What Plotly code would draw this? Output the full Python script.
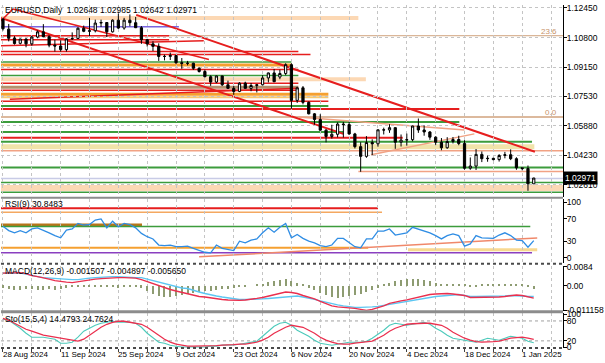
import pandas as pd
import plotly.graph_objects as go

# ---------------- data ----------------
dates = pd.bdate_range("2024-08-28", "2025-01-03")
bars = list(range(len(dates)))

opens = [1.1183,1.1127,1.1077,1.1048,1.1072,1.1045,1.1083,1.1112,1.1085,1.1038,
         1.1033,1.1013,1.1073,1.1075,1.1132,1.1115,1.1118,1.1161,1.1164,1.1112,
         1.1177,1.1133,1.1177,1.1163,1.1135,1.1068,1.1045,1.1031,1.0975,1.0975,
         1.0980,1.0940,1.0936,1.0937,1.0909,1.0891,1.0862,1.0832,1.0866,1.0817,
         1.0797,1.0780,1.0826,1.0797,1.0813,1.0817,1.0855,1.0883,1.0860,1.0880,
         1.0929,1.0730,1.0800,1.0719,1.0655,1.0623,1.0564,1.0529,1.0541,1.0598,
         1.0595,1.0543,1.0472,1.0418,1.0495,1.0488,1.0566,1.0565,1.0578,1.0497,
         1.0509,1.0511,1.0587,1.0565,1.0554,1.0525,1.0497,1.0466,1.0501,1.0512,
         1.0490,1.0352,1.0364,1.0429,1.0405,1.0407,1.0400,1.0423,1.0427,1.0405,
         1.0354,1.0350,1.02648]
highs = [1.1190,1.1156,1.1088,1.1074,1.1076,1.1089,1.1120,1.1155,1.1093,1.1068,
         1.1065,1.1077,1.1109,1.1138,1.1147,1.1189,1.1180,1.1180,1.1166,1.1182,
         1.1214,1.1190,1.1209,1.1195,1.1144,1.1073,1.1060,1.1048,1.0985,1.0996,
         1.0982,1.0966,1.0950,1.0940,1.0914,1.0901,1.0870,1.0868,1.0868,1.0840,
         1.0810,1.0831,1.0834,1.0827,1.0820,1.0870,1.0885,1.0905,1.0901,1.0937,
         1.0937,1.0806,1.0810,1.0724,1.0659,1.0653,1.0570,1.0594,1.0608,1.0610,
         1.0610,1.0549,1.0497,1.0531,1.0513,1.0568,1.0578,1.0597,1.0579,1.0540,
         1.0545,1.0589,1.0629,1.0591,1.0559,1.0530,1.0520,1.0525,1.0526,1.0533,
         1.0508,1.0412,1.0459,1.0445,1.0422,1.0410,1.0430,1.0443,1.0457,1.0413,
         1.0355,1.0367,1.02985]
lows = [1.1119,1.1059,1.1041,1.1042,1.1026,1.1035,1.1076,1.1083,1.1026,1.1002,
        1.1002,1.1002,1.1066,1.1073,1.1110,1.1088,1.1109,1.1139,1.1083,1.1108,
        1.1128,1.1124,1.1143,1.1133,1.1045,1.1030,1.1005,1.0950,1.0953,1.0955,
        1.0933,1.0906,1.0925,1.0900,1.0885,1.0859,1.0811,1.0826,1.0810,1.0796,
        1.0761,1.0776,1.0796,1.0781,1.0774,1.0814,1.0830,1.0832,1.0848,1.0870,
        1.0683,1.0716,1.0708,1.0652,1.0595,1.0560,1.0496,1.0517,1.0524,1.0523,
        1.0538,1.0462,1.0332,1.0410,1.0424,1.0472,1.0540,1.0549,1.0460,1.0473,
        1.0478,1.0502,1.0549,1.0533,1.0510,1.0482,1.0452,1.0460,1.0490,1.0480,
        1.0344,1.0343,1.0342,1.0386,1.0388,1.0395,1.0389,1.0407,1.0397,1.0343,
        1.0340,1.0226,1.02642]
closes = [1.1129,1.1076,1.1047,1.1072,1.1045,1.1083,1.1112,1.1085,1.1038,1.1033,
          1.1013,1.1073,1.1075,1.1132,1.1115,1.1118,1.1161,1.1164,1.1112,1.1177,
          1.1133,1.1177,1.1163,1.1135,1.1068,1.1045,1.1031,1.0975,1.0975,1.0980,
          1.0940,1.0936,1.0937,1.0909,1.0891,1.0862,1.0832,1.0866,1.0817,1.0797,
          1.0780,1.0826,1.0797,1.0813,1.0817,1.0855,1.0883,1.0834,1.0880,1.0929,
          1.0730,1.0800,1.0719,1.0655,1.0623,1.0564,1.0529,1.0541,1.0598,1.0595,
          1.0543,1.0472,1.0418,1.0495,1.0488,1.0566,1.0565,1.0578,1.0497,1.0509,
          1.0511,1.0587,1.0565,1.0554,1.0525,1.0497,1.0466,1.0501,1.0512,1.0490,
          1.0352,1.0364,1.0429,1.0405,1.0407,1.0400,1.0423,1.0427,1.0405,1.0354,
          1.0350,1.0265,1.02971]

rsi = [57,49,45,49,45,52,54,50,45,40,
       36,50,52,62,59,60,68,70,54,66,
       56,62,60,54,44,38,34,23,22,23,
       20,20,21,17,14,10,9,23,17,15,
       13,30,27,32,34,45,54,46,55,62,
       36,42,35,30,27,22,20,23,35,35,
       27,20,18,34,34,48,48,52,41,43,
       45,55,52,49,45,40,34,40,43,40,
       21,25,40,36,36,35,41,45,40,32,
       31,19,30.8483]

# MACD values in units of 1e-4
macd_red_e4 = [55.5,55.5,57.7,57.7,53.3,44.4,40.0,35.5,28.9,22.2,
               17.8,15.5,13.3,17.8,22.2,26.6,28.9,31.1,33.3,35.5,
               35.5,35.5,35.5,33.3,26.6,17.8,8.9,0.0,-11.1,-17.8,
               -24.4,-31.1,-37.7,-44.4,-48.8,-51.1,-55.5,-57.7,-62.2,-64.4,
               -66.6,-66.6,-64.4,-62.2,-57.7,-53.3,-46.6,-40.0,-35.5,-28.9,
               -31.1,-35.5,-44.4,-51.1,-59.9,-71.0,-79.9,-91.0,-95.5,-97.7,
               -97.7,-102.1,-106.6,-111.0,-106.6,-99.9,-91.0,-79.9,-73.3,-68.8,
               -64.4,-57.7,-53.3,-46.6,-40.0,-37.7,-35.5,-35.5,-37.7,-40.0,
               -44.4,-53.3,-53.3,-53.3,-53.3,-51.1,-51.1,-48.8,-44.4,-42.2,
               -44.4,-51.1,-56.5]
macd_blue_e4 = [55.5,55.5,57.7,55.5,51.1,44.4,40.0,35.5,33.3,31.1,
                28.9,28.9,26.6,26.6,31.1,33.3,35.5,37.7,40.0,40.0,
                40.0,37.7,37.7,35.5,35.5,28.9,22.2,15.5,8.9,2.2,
                -4.4,-11.1,-13.3,-22.2,-28.9,-35.5,-42.2,-46.6,-51.1,-55.5,
                -59.9,-62.2,-62.2,-62.2,-62.2,-59.9,-57.7,-55.5,-53.3,-51.1,
                -46.6,-46.6,-51.1,-55.5,-62.2,-68.8,-75.5,-79.9,-86.6,-91.0,
                -95.5,-97.7,-97.7,-97.7,-95.5,-93.2,-88.8,-84.4,-79.9,-75.5,
                -71.0,-64.4,-59.9,-55.5,-53.3,-48.8,-46.6,-44.4,-42.2,-40.0,
                -44.4,-48.8,-48.8,-48.8,-48.8,-48.8,-46.6,-46.6,-44.4,-44.4,
                -46.6,-48.8,-48.97]
macd_hist_e4 = [-8.9,-13.3,-17.8,-17.8,-13.3,-13.3,-17.8,-17.8,-13.3,-17.8,
                -13.3,-8.9,-4.4,-4.4,-4.4,-4.4,-4.4,-4.4,-4.4,-4.4,
                -8.9,-4.4,-4.4,-4.4,-8.9,-22.2,-35.5,-44.4,-48.8,-48.8,
                -44.4,-40.0,-35.5,-31.1,-26.6,-22.2,-22.2,-17.8,-13.3,-13.3,
                -8.9,-4.4,-4.4,0.0,4.4,8.9,17.8,22.2,26.6,31.1,
                22.2,13.3,4.4,-8.9,-17.8,-31.1,-40.0,-48.8,-53.3,-48.8,
                -44.4,-40.0,-35.5,-26.6,-17.8,-8.9,4.4,13.3,22.2,26.6,
                31.1,31.1,31.1,26.6,22.2,13.3,8.9,8.9,8.9,4.4,
                4.4,-4.4,-4.4,4.4,4.4,4.4,4.4,4.4,4.4,4.4,
                4.4,-4.4,-15.07]

sto_main = [85,82,70,58,43,31,31,31,28,25,
            13,13,16,31,49,58,67,73,76,79,
            76,76,76,73,61,43,28,16,13,7,
            4,1.5,1.5,1.5,1.5,1.5,4,4,7,7,
            8,10,13,16,19,34,49,64,73,76,
            67,52,43,34,22,13,10,7,10,13,
            16,16,16,19,28,40,52,67,73,70,
            67,70,73,76,70,58,49,37,28,25,
            22,19,16,22,28,25,22,28,34,31,
            28,19,14.4793]
sto_signal = [88,82,73,64,55,49,43,37,34,31,
              28,25,22,19,25,37,49,61,70,76,
              79,79,76,74,70,61,49,37,25,16,
              10,7,4,4,4,4,4,5.5,7,7,
              8.5,10,10,13,16,22,31,43,52,61,
              67,64,61,52,43,31,22,16,11.5,10,
              10,13,14.5,16,19,28,37,49,58,64,
              70,71.5,73,73,73,70,67,58,46,37,
              28,22,17.5,16,16,17.5,19,23.5,28,29.5,
              31,28,24.7624]

for arr in (opens, highs, lows, closes, rsi, macd_red_e4, macd_blue_e4,
            macd_hist_e4, sto_main, sto_signal):
    assert len(arr) == len(bars), len(arr)

macd_red = [v / 1e4 for v in macd_red_e4]
macd_blue = [v / 1e4 for v in macd_blue_e4]
macd_hist = [v / 1e4 for v in macd_hist_e4]

price_ticks = [1.12450, 1.10800, 1.09150, 1.07530, 1.05880, 1.04230, 1.02610]
rsi_ticks = [100, 70, 30, 0]
macd_ticks = [0.0084, 0.0, -0.011158]
macd_tick_text = ["0.0084", "0.00", "-0.011158"]
sto_ticks = [100, 80, 20, 0]
sto_levels = [80, 20]
date_tick_bars = [0, 10, 20, 30, 40, 50, 60, 70, 80, 90]
date_tick_labels = ["28 Aug 2024", "11 Sep 2024", "25 Sep 2024", "9 Oct 2024",
                    "23 Oct 2024", "6 Nov 2024", "20 Nov 2024", "4 Dec 2024",
                    "18 Dec 2024", "1 Jan 2025"]

# horizontal price levels drawn on the chart (price, first bar, last bar)
L, R = -0.34, 97.07
level_price = [1.11898, 1.08472, 1.04715, 1.02422,
               1.11400, 1.10903, 1.10903, 1.10682, 1.10019, 1.09853, 1.09439,
               1.09273, 1.09025, 1.08693, 1.08251, 1.08030, 1.07864, 1.07643,
               1.07478, 1.07257, 1.06980, 1.06815, 1.06373, 1.06096, 1.05544,
               1.05212, 1.04991, 1.04494, 1.03555, 1.03334, 1.02947, 1.02726,
               1.02174]
level_from = [L, L, L, L,
              L, L, L, L, L, L, L,
              L, L, L, L, L, L, L,
              L, L, L, L, L, L, L,
              L, L, L, L, 61.6, L, L,
              L]
level_to = [61.6, 62.9, 92.1, R,
            30.5, R, 28.8, 28.8, 51.2, 53.3, 50.0,
            50.0, 51.2, 51.2, 51.2, 51.2, 51.2, 56.4,
            56.4, 56.4, 56.4, 79.1, R, 79.1, 59.0,
            69.3, 91.7, R, R, R, R, R,
            R]
# trend lines (bar0, price0, bar1, price1)
trend_lines = [(23.1, 1.12063, 92.2, 1.04439),
               (L, 1.11898, 59.0, 1.05433),
               (L, 1.10351, 34.8, 1.10627),
               (1.7, 1.12395, 35.7, 1.09577),
               (1.2, 1.07367, 51.2, 1.07975),
               (L, 1.11732, 1.7, 1.12395),
               (51.2, 1.06373, 80.0, 1.05655),
               (63.8, 1.04273, 81.7, 1.05433)]
fib_labels = [("23.6", 1.10903), ("0.0", 1.06373)]
last_price = 1.02971

# RSI levels (value, first bar, last bar)
rsi_level_value = [89.3, 82.1, 58.9, 56.3, 17.9, 14.3, 8.9]
rsi_level_from = [L, L, L, L, L, 70.2, L]
rsi_level_to = [65.0, 65.7, 24.1, 91.4, 63.3, 92.6, 91.7]
rsi_trend = (34.0, 1.8, 92.6, 35.7)

# ---------------- styles ----------------
RED = "#e61e1e"
GREEN = "#3c9c3c"
ORANGE = "#f5a030"
PEACH = "#fcd8b4"
TAN = "#d0a27c"
PURPLE = "#7a66e0"
KHAKI = "#f1e3aa"
BROWN = "#b3906e"
SALMON = "#f1a284"
LAV = "#c8cbe6"
level_color = [PEACH, PEACH, KHAKI, PEACH,
               PURPLE, TAN, RED, RED, RED, RED, GREEN,
               ORANGE, RED, GREEN, RED, BROWN, RED, ORANGE,
               "#f6c870", RED, GREEN, RED, TAN, GREEN, GREEN,
               RED, GREEN, SALMON, GREEN, SALMON, LAV, GREEN,
               GREEN]
level_width = [4, 4, 5, 6,
               1.5, 1, 1.5, 1.5, 1.5, 1.5, 1.5,
               3, 1.5, 1.5, 1.5, 3, 1.5, 3,
               2, 1.5, 2, 2, 1.5, 2, 2,
               2, 2, 1.5, 2, 1.5, 1.5, 1.5,
               1.5]
trend_color = [RED, RED, RED, RED, RED, RED, SALMON, SALMON]
trend_width = [2, 2, 1.5, 1.5, 1.5, 1.5, 1.5, 1.5]
rsi_level_color = [RED, "#f4a860", "#b8741a", GREEN, ORANGE, "#f8d890", "#8a3fc0"]
rsi_level_width = [2, 1.5, 3, 1.5, 2, 3, 1.5]

FONT = "Liberation Sans, Arial, sans-serif"
W, H = 605, 363
ML, MR, MT, MB = 1, 39, 2, 15
PH = H - MT - MB
PW = W - ML - MR


def fy(ypx):
    return 1 - (ypx - MT) / PH


def fx(xpx):
    return (xpx - ML) / PW


fig = go.Figure()

fig.add_trace(go.Candlestick(
    x=bars, open=opens, high=highs, low=lows, close=closes,
    xaxis="x", yaxis="y", whiskerwidth=0,
    increasing=dict(line=dict(color="black", width=1), fillcolor="white"),
    decreasing=dict(line=dict(color="black", width=1), fillcolor="black"),
    hoverinfo="skip"))

fig.add_trace(go.Scatter(x=bars, y=rsi, mode="lines", xaxis="x", yaxis="y2",
                         line=dict(color="#2f8de4", width=1.3), hoverinfo="skip"))

fig.add_trace(go.Bar(x=bars, y=macd_hist, xaxis="x", yaxis="y3", width=0.18,
                     marker=dict(color="#8e9c72", line=dict(width=0)), hoverinfo="skip"))
fig.add_trace(go.Scatter(x=bars, y=macd_blue, mode="lines", xaxis="x", yaxis="y3",
                         line=dict(color="#5cc6f2", width=1.4), hoverinfo="skip"))
fig.add_trace(go.Scatter(x=bars, y=macd_red, mode="lines", xaxis="x", yaxis="y3",
                         line=dict(color="#ea2f4e", width=1.4), hoverinfo="skip"))

fig.add_trace(go.Scatter(x=bars, y=sto_main, mode="lines", xaxis="x", yaxis="y4",
                         line=dict(color="#4ccabb", width=1.1), hoverinfo="skip"))
fig.add_trace(go.Scatter(x=bars, y=sto_signal, mode="lines", xaxis="x", yaxis="y4",
                         line=dict(color="#ea2f4e", width=1.3), hoverinfo="skip"))

shapes = []
for p, a, b, c, w in zip(level_price, level_from, level_to, level_color, level_width):
    shapes.append(dict(type="line", xref="x", yref="y", x0=a, x1=b, y0=p, y1=p,
                       line=dict(color=c, width=w), layer="below"))
for (a, p0, b, p1), c, w in zip(trend_lines, trend_color, trend_width):
    shapes.append(dict(type="line", xref="x", yref="y", x0=a, x1=b, y0=p0, y1=p1,
                       line=dict(color=c, width=w), layer="below"))
for v, a, b, c, w in zip(rsi_level_value, rsi_level_from, rsi_level_to,
                         rsi_level_color, rsi_level_width):
    shapes.append(dict(type="line", xref="x", yref="y2", x0=a, x1=b, y0=v, y1=v,
                       line=dict(color=c, width=w), layer="below"))
shapes.append(dict(type="line", xref="x", yref="y2", x0=rsi_trend[0], y0=rsi_trend[1],
                   x1=rsi_trend[2], y1=rsi_trend[3],
                   line=dict(color="#f0886a", width=1.5), layer="below"))
for v in sto_levels:
    shapes.append(dict(type="line", xref="paper", yref="y4", x0=0, x1=1, y0=v, y1=v,
                       line=dict(color="#a0a0a0", width=1, dash="dot"), layer="below"))
# panel separators
for ypx, col, w, d in [(196.5, "#8c8c8c", 2, "solid"), (263, "#4a4a4a", 2, "dot"),
                       (311.5, "#8c8c8c", 3, "solid"), (348, "#4a4a4a", 2, "dot")]:
    shapes.append(dict(type="line", xref="paper", yref="paper", x0=0, x1=1,
                       y0=fy(ypx), y1=fy(ypx), line=dict(color=col, width=w, dash=d)))

annotations = []
tfont = dict(family=FONT, size=8.5, color="black")
annotations.append(dict(xref="paper", yref="paper", x=fx(4), y=fy(7), xanchor="left",
                        yanchor="middle", showarrow=False, font=tfont, borderpad=0,
                        text="EURUSD,Daily  %.5f %.5f %.5f %.5f" % (opens[-1], highs[-1], lows[-1], closes[-1])))
annotations.append(dict(xref="paper", yref="paper", x=fx(4), y=fy(203), xanchor="left",
                        yanchor="middle", showarrow=False, font=tfont, borderpad=0,
                        text="RSI(9) %.4f" % rsi[-1]))
annotations.append(dict(xref="paper", yref="paper", x=fx(4), y=fy(270), xanchor="left",
                        yanchor="middle", showarrow=False, font=tfont, borderpad=0,
                        text="MACD(12,26,9) -0.001507 -0.004897 -0.005650"))
annotations.append(dict(xref="paper", yref="paper", x=fx(4), y=fy(318.5), xanchor="left",
                        yanchor="middle", showarrow=False, font=tfont, borderpad=0,
                        text="Sto(15,5,4) %.4f %.4f" % (sto_main[-1], sto_signal[-1])))
for b, lbl in zip(date_tick_bars, date_tick_labels):
    annotations.append(dict(xref="x", yref="paper", x=b, y=fy(355), xanchor="left",
                            yanchor="middle", showarrow=False, xshift=-1, borderpad=0,
                            font=dict(family=FONT, size=8, color="black"), text=lbl))
for txt, p in fib_labels:
    annotations.append(dict(xref="paper", yref="y", x=fx(561), y=p, xanchor="right",
                            yanchor="bottom", showarrow=False, yshift=-1, borderpad=0,
                            font=dict(family=FONT, size=8, color="#c8946a"), text=txt))
annotations.append(dict(xref="paper", yref="y", x=1, y=last_price, xanchor="left",
                        yanchor="middle", showarrow=False, bgcolor="black", borderpad=1,
                        xshift=0,
                        font=dict(family=FONT, size=8.5, color="white"), text="%.5f" % last_price))

axis_common = dict(side="right", showline=True, linecolor="black", linewidth=1,
                   ticks="outside", ticklen=3, tickcolor="black", zeroline=False,
                   ticklabelstandoff=-2,
                   tickfont=dict(family=FONT, size=8.5, color="black"), anchor="x",
                   fixedrange=True)

fig.update_layout(
    width=W, height=H, margin=dict(l=ML, r=MR, t=MT, b=MB, pad=0),
    paper_bgcolor="white", plot_bgcolor="white", showlegend=False,
    boxgap=0.45, bargap=0, hovermode=False,
    shapes=shapes, annotations=annotations,
    xaxis=dict(range=[L, R], tickvals=list(range(0, 100, 5)), showticklabels=False,
               showgrid=True, gridcolor="#c4c4c4", griddash="dot", gridwidth=1,
               zeroline=False, showline=False, ticks="outside",
               ticklen=3, tickcolor="#404040", anchor="y4",
               rangeslider=dict(visible=False), fixedrange=True),
    yaxis=dict(domain=[fy(196), 1], range=[1.01897, 1.12616], tickvals=price_ticks,
               ticktext=["%.5f" % v for v in price_ticks], showgrid=True,
               gridcolor="#c4c4c4", griddash="dot", **axis_common),
    yaxis2=dict(domain=[fy(262), fy(198)], range=[-8.9, 105.4], tickvals=rsi_ticks,
                showgrid=False, **axis_common),
    yaxis3=dict(domain=[fy(310.5), fy(265)], range=[-0.01132, 0.00888],
                tickvals=macd_ticks, ticktext=macd_tick_text, showgrid=False, **axis_common),
    yaxis4=dict(domain=[0, fy(313)], range=[-1.5, 103], tickvals=sto_ticks,
                showgrid=False, **axis_common),
)

fig.write_html("out.html", config={"displayModeBar": False},
               post_script="document.body.style.margin='0';document.body.style.padding='0';")
